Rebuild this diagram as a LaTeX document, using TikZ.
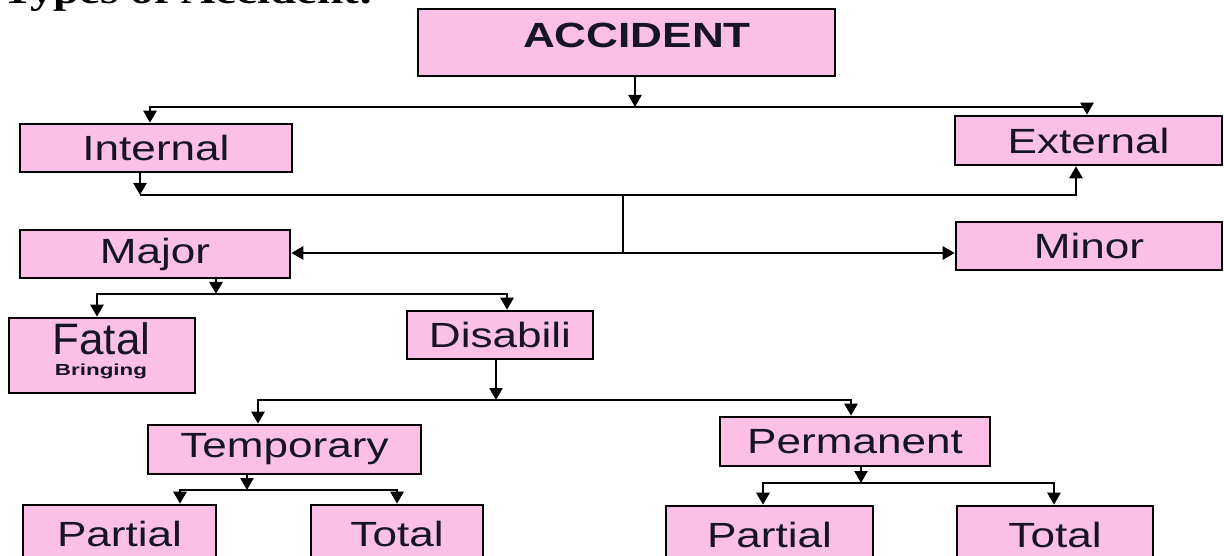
\documentclass[tikz,border=0pt]{standalone}
\usepackage{fontspec}
\usetikzlibrary{arrows.meta,calc}
\newfontfamily\ars[FakeStretch=1.26]{Liberation Sans}
\newfontfamily\arf{Liberation Sans}
\newfontfamily\arb[FakeStretch=1.4]{Liberation Sans}
\newfontfamily\tms[FakeStretch=1.27]{Liberation Serif}
\definecolor{boxpink}{RGB}{252,192,230}
\definecolor{ink}{RGB}{22,20,40}
\begin{document}
\begin{tikzpicture}[x=1pt,y=-1pt,
  box/.style={draw=black,line width=2.6pt,fill=boxpink,inner sep=0pt,rectangle,text=ink,
    font=\ars\fontsize{35}{40}\selectfont},
  lbl/.style={text=ink,inner sep=0pt},
  con/.style={line width=2.5pt,draw=black},
  arr/.style={con,-{Triangle[width=13pt,length=12pt]}},
  arrs/.style={con,{Triangle[width=13pt,length=12pt]}-{Triangle[width=13pt,length=12pt]}}]
\useasboundingbox[fill=white] (0,0) rectangle (1224,556);
\begin{scope}
\clip (0,0) rectangle (1224,556);
\node[lbl,anchor=base west,text=black,font=\tms\bfseries\fontsize{37}{40}\selectfont] (title) at (2,4) {Types of Accident:};

% boxes
\node[box,minimum width=417,minimum height=67] (acc) at (626.5,42.5) {};
\node[lbl,font=\ars\bfseries\fontsize{35}{40}\selectfont] (accT) at (637,35.5) {ACCIDENT};
\node[box,minimum width=272,minimum height=48] (int) at (156,148) {Internal};
\node[box,minimum width=267,minimum height=49] (ext) at (1088.5,140.5) {External};
\node[box,minimum width=270,minimum height=48] (maj) at (155,254) {Major};
\node[box,minimum width=266,minimum height=48] (min) at (1089,246) {Minor};
\node[box,minimum width=186,minimum height=75] (fat) at (102,355.5) {};
\node[lbl,font=\arf\fontsize{44}{48}\selectfont] (fatT) at (101.5,339) {Fatal};
\node[lbl,font=\arb\bfseries\fontsize{16}{18}\selectfont] (fatB) at (101,371) {Bringing};
\node[box,minimum width=186,minimum height=48] (dis) at (500,335) {Disabili};
\node[box,minimum width=273,minimum height=49] (tmp) at (284.5,449.5) {Temporary};
\node[box,minimum width=270,minimum height=49] (per) at (855,441.5) {Permanent};
\node[box,minimum width=193,minimum height=57] (pa1) at (119.5,533.5) {Partial};
\node[box,minimum width=172,minimum height=57] (to1) at (397,533.5) {Total};
\node[box,minimum width=207,minimum height=57] (pa2) at (769.5,534.5) {Partial};
\node[box,minimum width=196,minimum height=57] (to2) at (1055,534.5) {Total};

% ACCIDENT -> Internal / External
\coordinate (j1) at (635,107);
\coordinate (j1a) at (150,107);
\coordinate (j1b) at (1087,107);
\draw[arr] (acc.south -| j1) -- (j1);
\draw[arrs] (int.north -| j1a) -- (j1a) -- (j1b) -- (ext.north -| j1b);

% Internal -> External
\coordinate (j2a) at (140,195);
\coordinate (j2b) at (1076,195);
\draw[arr] (int.south -| j2a) -- (j2a);
\draw[arr] (j2a) -- (j2b) -- (ext.south -| j2b);

% -> Major / Minor
\coordinate (j3) at (623,195);
\coordinate (j3b) at (623,253);
\draw[con] (j3) -- (j3b);
\draw[arrs] (maj.east |- j3b) -- (min.west |- j3b);

% Major -> Fatal / Disabili
\coordinate (j4) at (216,294);
\coordinate (j4a) at (97,294);
\coordinate (j4b) at (507,294);
\draw[arr] (maj.south -| j4) -- (j4);
\draw[arrs] (fat.north -| j4a) -- (j4a) -- (j4b) -- (dis.north -| j4b);

% Disabili -> Temporary / Permanent
\coordinate (j5) at (496,400);
\coordinate (j5a) at (258,400);
\coordinate (j5b) at (851,400);
\draw[arr] (dis.south -| j5) -- (j5);
\draw[arrs] (tmp.north -| j5a) -- (j5a) -- (j5b) -- (per.north -| j5b);

% Temporary -> Partial / Total
\coordinate (j6) at (247,490);
\coordinate (j6a) at (180,490);
\coordinate (j6b) at (397,490);
\draw[arr] (tmp.south -| j6) -- (j6);
\draw[arrs] (pa1.north -| j6a) -- (j6a) -- (j6b) -- (to1.north -| j6b);

% Permanent -> Partial / Total
\coordinate (j7) at (861,483);
\coordinate (j7a) at (763,483);
\coordinate (j7b) at (1054,483);
\draw[arr] (per.south -| j7) -- (j7);
\draw[arrs] (pa2.north -| j7a) -- (j7a) -- (j7b) -- (to2.north -| j7b);
\end{scope}
\end{tikzpicture}
\end{document}
